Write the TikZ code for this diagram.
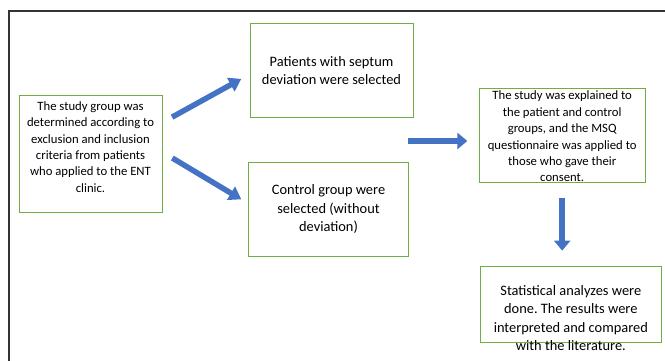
\documentclass[tikz,border=0pt]{standalone}
\usepackage{fontspec}
\setmainfont{Carlito}
\frenchspacing
\usetikzlibrary{arrows.meta,positioning}
\definecolor{boxgreen}{RGB}{112,173,71}
\definecolor{arrowblue}{RGB}{68,114,196}
\tikzset{
  greenbox/.style={draw=boxgreen, line width=0.8pt, align=center, inner sep=0pt},
  smalltext/.style={font=\fontsize{12.7}{16.4}\selectfont},
  bigtext/.style={font=\fontsize{14.4}{18.2}\selectfont},
  bigarrow/.style={draw=arrowblue, line width=6pt, -{Triangle[width=16pt,length=10pt]}},
}
\begin{document}
\begin{tikzpicture}[x=1pt,y=-1pt]
\useasboundingbox (0,0) rectangle (665,361);
% cadre
\draw[black!80, line width=1.3pt] (9,361) -- (9,11) -- (665,11);

% boites
\node[greenbox, minimum width=143pt, minimum height=117pt] (group) at (90.5,153.5) {};
\node[smalltext, align=center] (grouptext) at (90.5,147)
  {The study group was\\determined according to\\exclusion and inclusion\\criteria from patients\\who applied to the ENT\\clinic.};
\node[greenbox, bigtext, minimum width=163pt, minimum height=94.5pt] (patients) at (331.5,70.3)
  {Patients with septum\\deviation were selected};
\node[greenbox, bigtext, minimum width=160pt, minimum height=94pt] (control) at (328.5,209)
  {Control group were\\selected (without\\deviation)};
\node[greenbox, minimum width=165.7pt, minimum height=94pt] (explained) at (562.2,135.3) {};
\node[smalltext, align=center] (explainedtext) at (562.2,136.5)
  {The study was explained to\\the patient and control\\groups, and the MSQ\\questionnaire was applied to\\those who gave their\\consent.};
\node[greenbox, minimum width=181.7pt, minimum height=76.3pt] (stats) at (570.8,304.2) {};
\node[bigtext, align=center] (statstext) at (570.8,318)
  {Statistical analyzes were\\done. The results were\\interpreted and compared\\with the literature.};

% fleches
\draw[bigarrow, line width=5.5pt, -{Triangle[width=15pt,length=12pt]}, shorten <=11.1pt, shorten >=9.5pt]
  ([yshift=31pt]group.east) -- ([yshift=-4pt]patients.west);
\draw[bigarrow, line width=5.5pt, -{Triangle[width=15pt,length=12pt]}, shorten <=11.6pt, shorten >=7.9pt]
  ([yshift=1.4pt]group.east) -- ([yshift=5.6pt]control.west);
\draw[bigarrow] ([xshift=-71pt,yshift=-5.7pt]explained.west) -- ([xshift=-11.6pt,yshift=-5.7pt]explained.west);
\draw[bigarrow, shorten <=15pt, shorten >=15pt] (explained.south) -- (explained.south |- stats.north);
\end{tikzpicture}
\end{document}
